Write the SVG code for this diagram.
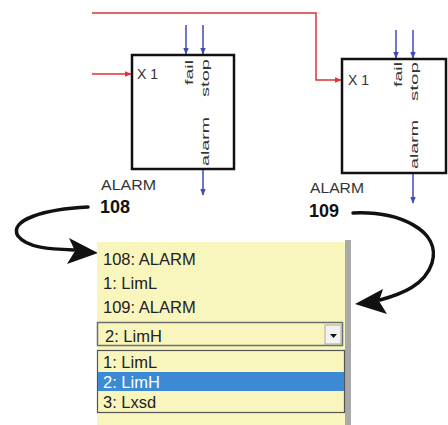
<svg xmlns="http://www.w3.org/2000/svg" width="448" height="425" viewBox="0 0 448 425">
<defs>
<marker id="ar" viewBox="0 0 10 10" refX="9" refY="5" markerWidth="7" markerHeight="7" markerUnits="userSpaceOnUse" orient="auto"><path d="M0,1 L10,5 L0,9 z" fill="#e03232"/></marker>
<marker id="ab" viewBox="0 0 10 10" refX="9" refY="5" markerWidth="7" markerHeight="7" markerUnits="userSpaceOnUse" orient="auto"><path d="M0,1 L10,5 L0,9 z" fill="#3c4cb4"/></marker>
</defs>
<style>
.box{fill:#fff;stroke:#111;stroke-width:2.5}
.red{fill:none;stroke:#e03232;stroke-width:1.5}
.blue{fill:none;stroke:#3c4cb4;stroke-width:1.5}
.pin{font-family:"Liberation Sans",Arial,sans-serif;font-size:14px;fill:#333}
.vpin{font-family:"Liberation Sans",Arial,sans-serif;font-size:11px;fill:#333}
.lbl{font-family:"Liberation Sans",Arial,sans-serif;font-size:15px;fill:#333}
.num{font-family:"Liberation Sans",Arial,sans-serif;font-size:18px;font-weight:bold;fill:#111}
.row{font-family:"Liberation Sans",Arial,sans-serif;font-size:16.5px;fill:#222}
.curve{fill:none;stroke:#111;stroke-width:3.5;stroke-linecap:round}
</style>
<rect width="448" height="425" fill="#fff"/>
<g id="connectors">
<path class="red" d="M92,13 H316 V80 H341" marker-end="url(#ar)"/>
<path class="red" d="M92,74 H131" marker-end="url(#ar)"/>
<path class="blue" d="M186,25 V54" marker-end="url(#ab)"/>
<path class="blue" d="M203,25 V54" marker-end="url(#ab)"/>
<path class="blue" d="M203,170 V195" marker-end="url(#ab)"/>
<path class="blue" d="M396,30 V58" marker-end="url(#ab)"/>
<path class="blue" d="M413,30 V58" marker-end="url(#ab)"/>
<path class="blue" d="M413,174 V203" marker-end="url(#ab)"/>
<path class="curve" d="M88,207 C45,209 8,220 18,236 C27,248 50,249 74,250"/>
<polygon points="98,253 69,238 75,251 67,264" fill="#111"/>
<path class="curve" d="M353,213 C398,211 442,230 432,263 C425,285 402,294 380,300"/>
<polygon points="355,304 383,289 379,301 387,314" fill="#111"/>
</g>
<g id="alarm108">
<rect class="box" x="132" y="55" width="102" height="114"/>
<text class="pin" x="137" y="79">X 1</text>
<text class="vpin" transform="translate(193,85) rotate(-90)" textLength="25" lengthAdjust="spacingAndGlyphs">fail</text>
<text class="vpin" transform="translate(209,97) rotate(-90)" textLength="38" lengthAdjust="spacingAndGlyphs">stop</text>
<text class="vpin" transform="translate(209,166) rotate(-90)" textLength="49" lengthAdjust="spacingAndGlyphs">alarm</text>
<text class="lbl" x="101" y="190" textLength="55" lengthAdjust="spacingAndGlyphs">ALARM</text>
<text class="num" x="100" y="213">108</text>
</g>
<g id="alarm109">
<rect class="box" x="342" y="59" width="104" height="114"/>
<text class="pin" x="348" y="85">X 1</text>
<text class="vpin" transform="translate(402,87) rotate(-90)" textLength="25" lengthAdjust="spacingAndGlyphs">fail</text>
<text class="vpin" transform="translate(418,101) rotate(-90)" textLength="39" lengthAdjust="spacingAndGlyphs">stop</text>
<text class="vpin" transform="translate(418,169) rotate(-90)" textLength="49" lengthAdjust="spacingAndGlyphs">alarm</text>
<text class="lbl" x="310" y="193" textLength="54" lengthAdjust="spacingAndGlyphs">ALARM</text>
<text class="num" x="309" y="217">109</text>
</g>
<g id="panel">
<rect x="97" y="242" width="248" height="183" fill="#f8f5bd"/>
<rect x="345" y="240" width="6" height="185" fill="#a9a9a9"/>
<text class="row" x="103" y="265">108: ALARM</text>
<text class="row" x="103" y="289">1: LimL</text>
<text class="row" x="103" y="313">109: ALARM</text>
</g>
<g id="combo">
<rect x="97.5" y="322.5" width="245" height="23" fill="#f8f5bd" stroke="#6e6e6e" stroke-width="1.5"/>
<rect x="325" y="325" width="16" height="19" fill="#f2f2f2" stroke="#9a9a9a" stroke-width="0.8"/>
<path d="M330,334 H337 L333.5,338 z" fill="#111"/>
<text class="row" x="105" y="342">2: LimH</text>
</g>
<g id="dropdown">
<rect x="97.5" y="350.5" width="247" height="62" fill="#f8f5bd" stroke="#555" stroke-width="1.2"/>
<rect x="98" y="372" width="246" height="19" fill="#3b8ad3"/>
<text class="row" x="103" y="368">1: LimL</text>
<text class="row" x="103" y="388" style="fill:#fff">2: LimH</text>
<text class="row" x="103" y="408">3: Lxsd</text>
</g>
</svg>
